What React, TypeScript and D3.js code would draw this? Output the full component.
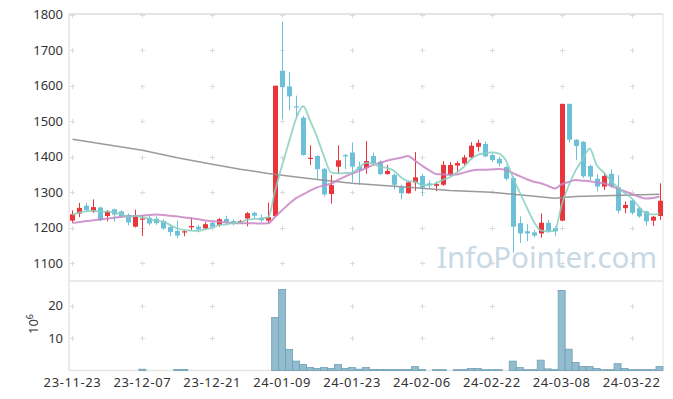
import React, { useEffect } from "react";
import * as d3 from "d3";

const dates = [
  "23-11-23","23-11-24","23-11-27","23-11-28","23-11-29","23-11-30",
  "23-12-01","23-12-04","23-12-05","23-12-06","23-12-07","23-12-08","23-12-11","23-12-12","23-12-13","23-12-14","23-12-15","23-12-18","23-12-19","23-12-20","23-12-21","23-12-22","23-12-26","23-12-27","23-12-28",
  "24-01-02","24-01-03","24-01-04","24-01-05","24-01-08","24-01-09","24-01-10","24-01-11","24-01-12","24-01-15","24-01-16","24-01-17","24-01-18","24-01-19","24-01-22","24-01-23","24-01-24","24-01-25","24-01-26","24-01-29","24-01-30","24-01-31",
  "24-02-01","24-02-02","24-02-05","24-02-06","24-02-07","24-02-08","24-02-13","24-02-14","24-02-15","24-02-16","24-02-19","24-02-20","24-02-21","24-02-22","24-02-23","24-02-26","24-02-27","24-02-28","24-02-29",
  "24-03-04","24-03-05","24-03-06","24-03-07","24-03-08","24-03-11","24-03-12","24-03-13","24-03-14","24-03-15","24-03-18","24-03-19","24-03-20","24-03-21","24-03-22","24-03-25","24-03-26","24-03-27","24-03-28",
];

const opens = [
  1220,1240,1262,1246,1257,1233,1252,1246,1236,1203,
  1223,1228,1225,1219,1202,1191,1187,1201,1203,1198,
  1214,1208,1225,1219,1215,1226,1242,1228,1220,1233,
  1642,1598,1542,1510,1395,1402,1366,1295,1372,1405,
  1412,1372,1368,1402,1386,1351,1349,1314,1297,1327,
  1346,1325,1318,1321,1349,1375,1381,1398,1428,1436,
  1405,1394,1371,1340,1213,1190,1187,1184,1214,1199,
  1220,1549,1448,1442,1374,1338,1316,1352,1314,1255,
  1277,1255,1246,1220,1233,
];
const highs = [
  1249,1270,1270,1280,1259,1250,1254,1249,1240,1251,
  1236,1235,1232,1224,1208,1219,1194,1229,1208,1216,
  1218,1227,1234,1224,1222,1244,1245,1238,1271,1600,
  1781,1638,1572,1515,1432,1404,1368,1348,1432,1408,
  1440,1386,1444,1412,1390,1377,1353,1321,1330,1413,
  1352,1333,1330,1388,1385,1387,1405,1441,1448,1443,
  1410,1400,1375,1345,1232,1210,1195,1240,1222,1204,
  1549,1549,1450,1444,1378,1351,1355,1365,1348,1274,
  1280,1258,1248,1233,1325,
];
const lows = [
  1214,1230,1244,1242,1219,1218,1217,1228,1207,1201,
  1177,1207,1208,1194,1176,1170,1176,1192,1187,1196,
  1199,1203,1208,1207,1212,1204,1225,1217,1212,1231,
  1506,1530,1512,1403,1377,1338,1288,1268,1352,1365,
  1327,1321,1352,1378,1349,1350,1307,1280,1296,1304,
  1289,1312,1303,1318,1345,1356,1377,1395,1415,1399,
  1385,1373,1333,1130,1157,1162,1173,1172,1186,1177,
  1218,1440,1390,1340,1333,1302,1306,1312,1240,1241,
  1237,1228,1206,1205,1222,
];
const closes = [
  1238,1256,1250,1258,1221,1245,1237,1233,1215,1236,
  1226,1212,1213,1198,1188,1178,1190,1205,1195,1210,
  1203,1224,1216,1214,1219,1241,1234,1221,1230,1600,
  1596,1570,1540,1405,1397,1365,1294,1320,1390,1401,
  1372,1362,1388,1382,1351,1360,1321,1297,1328,1342,
  1313,1320,1323,1377,1377,1382,1398,1431,1439,1401,
  1391,1381,1338,1203,1184,1184,1178,1214,1190,1190,
  1549,1448,1430,1345,1344,1316,1346,1316,1248,1264,
  1242,1232,1218,1231,1276,
];
// volume in millions
const volumes = [
  0,0,0,0,0,0,0,0,0,0,
  0.4,0,0,0,0,0.3,0.3,0,0,0,
  0,0,0,0,0,0,0,0,0,16.4,
  25.1,6.5,2.9,1.85,0.9,0.6,0.9,0.6,1.85,0.6,
  0.9,0.4,0.9,0.3,0.3,0.3,0.3,0.3,0.3,1.2,
  0.35,0,0.25,0.25,0,0.25,0.25,0.6,0.6,0.25,
  0.25,0.25,0,2.9,0.9,0.25,0.25,3.2,0.5,0.25,
  24.8,6.6,2.5,1.25,1.25,0.6,0.25,0.25,2.1,0.6,
  0.25,0.25,0.25,0.25,1.2,
];

// moving-average values before a full window is available
const ma5Lead = [1236, 1243, 1247, 1248];
const ma20Lead = [1213,1216,1219,1221,1224,1226,1228,1231,1232,1233,1234,1236,1237,1236,1234,1232,1229,1227,1224];
// long moving average
const longMaIdx = [0,5,10,15,20,24,28,32,36,40,45,50,54,60,65,69,72,76,80,84];
const longMaVal = [1449,1434,1418,1397,1379,1365,1353,1343,1334,1325,1318,1311,1305,1300,1291,1283,1288,1290,1292,1294];

const priceTicks = [1100,1200,1300,1400,1500,1600,1700,1800];
const volTicks = [10, 20];
const dateTickEvery = 10;

const W = 673, H = 399;
const L = 69, R = 663;
const PT = 14, PB = 281;
const VT = 281, VB = 370.5;

const RED = "#ea353b";
const BLUE = "#6cc1d9";
const GRID = "#dcdcdc";
const AXIS = "#e4e4e4";
const FONT = "'Noto Sans', 'Open Sans', sans-serif";

function movingAvg(n: number, lead: number[]) {
  return closes.map((_, i) => {
    if (i < n - 1) return lead[i];
    return d3.mean(closes.slice(i - n + 1, i + 1)) as number;
  });
}

export default function App() {
  useEffect(() => {
    document.body.style.margin = "0";
  }, []);

  const n = closes.length;
  const idx = d3.range(n);
  const x = d3.scaleLinear().domain([-0.5, n - 0.5]).range([L, R]);
  const y = d3.scaleLinear().domain([1050, 1802]).range([PB, PT]);
  const yv = d3.scaleLinear().domain([0, 27.7]).range([VB, VT]);

  const ma5 = movingAvg(5, ma5Lead);
  const ma20 = movingAvg(20, ma20Lead);
  const line = d3.line<[number, number]>().x(d => x(d[0])).y(d => y(d[1])).curve(d3.curveMonotoneX);
  const ma5Path = line(idx.map(i => [i, ma5[i]] as [number, number])) || "";
  const ma20Path = line(idx.map(i => [i, ma20[i]] as [number, number])) || "";
  const longPath = d3.line<[number, number]>().x(d => x(d[0])).y(d => y(d[1]))(
    longMaIdx.map((k, j) => [k, longMaVal[j]] as [number, number])) || "";

  const step = x(1) - x(0);
  const bodyW = 5;
  const xTickIdx = idx.filter(i => i % dateTickEvery === 0);

  const cross = (cx: number, cy: number, key: string) => (
    <g key={key} stroke={GRID} strokeWidth={1}>
      <line x1={cx - 2.5} x2={cx + 2.5} y1={cy} y2={cy} />
      <line x1={cx} x2={cx} y1={cy - 2.5} y2={cy + 2.5} />
    </g>
  );

  return (
    <svg width={W} height={H} style={{ position: "absolute", left: 0, top: 0, background: "#fff" }} fontFamily={FONT}>
      {/* frames */}
      <line x1={L} x2={R} y1={PT} y2={PT} stroke={AXIS} strokeWidth={2} />
      <line x1={L} x2={L} y1={PT} y2={VB} stroke={AXIS} strokeWidth={1.5} />
      <line x1={R} x2={R} y1={PT} y2={VB} stroke={AXIS} strokeWidth={1} />
      <line x1={L} x2={R} y1={PB} y2={PB} stroke={AXIS} strokeWidth={1.5} />
      <line x1={L} x2={R} y1={VB} y2={VB} stroke={AXIS} strokeWidth={1.5} />

      {/* grid crosses */}
      {xTickIdx.map(i => priceTicks.map(t => cross(Math.round(x(i)) + 0.5, Math.round(y(t)) + 0.5, `p${i}-${t}`)))}
      {xTickIdx.map(i => volTicks.map(t => cross(Math.round(x(i)) + 0.5, Math.round(yv(t)) + 0.5, `v${i}-${t}`)))}

      {/* watermark */}
      <text x={437} y={268} fontSize={29.5} fill="#b9d0df" opacity={0.8} fontFamily={FONT}>InfoPointer.com</text>

      {/* volume bars */}
      {idx.filter(i => volumes[i] > 0).map(i => {
        const top = yv(volumes[i]);
        return (
          <rect key={`vb${i}`} x={x(i) - step / 2} y={top} width={step} height={Math.max(0, VB - top)}
            fill="#93bccf" stroke="#6f9fb6" strokeWidth={0.8} />
        );
      })}

      {/* candles */}
      {idx.map(i => {
        const up = closes[i] >= opens[i];
        const c = up ? RED : BLUE;
        const cx = Math.round(x(i)) + 0.5;
        const yTop = y(Math.max(opens[i], closes[i]));
        const yBot = y(Math.min(opens[i], closes[i]));
        return (
          <g key={`c${i}`}>
            <line x1={cx} x2={cx} y1={y(highs[i])} y2={y(lows[i])} stroke={c} strokeWidth={1} />
            <rect x={cx - bodyW / 2} y={yTop} width={bodyW} height={Math.max(1.2, yBot - yTop)} fill={c} />
          </g>
        );
      })}

      {/* moving averages */}
      <path d={longPath} fill="none" stroke="#8f8f8f" strokeWidth={1.5} opacity={0.9} />
      <path d={ma20Path} fill="none" stroke="#c886c3" strokeWidth={2} opacity={0.85} />
      <path d={ma5Path} fill="none" stroke="#86cfbf" strokeWidth={1.8} opacity={0.85} />

      {/* price axis labels */}
      {priceTicks.map(t => (
        <text key={`pt${t}`} x={63} y={y(t)} dy="0.35em" textAnchor="end" fontSize={13} fill="#333">{t}</text>
      ))}
      {/* volume axis labels */}
      {volTicks.map(t => (
        <text key={`vt${t}`} x={63} y={yv(t)} dy="0.35em" textAnchor="end" fontSize={13} fill="#333">{t}</text>
      ))}
      <text transform="translate(38,324) rotate(-90)" textAnchor="middle" fontSize={13} fill="#333">
        10<tspan dy={-5} fontSize={9}>6</tspan>
      </text>

      {/* date labels */}
      {xTickIdx.map(i => (
        <text key={`dt${i}`} x={x(i)} y={382} dy="0.35em" textAnchor="middle" fontSize={13} letterSpacing={0.6} fill="#333">{dates[i]}</text>
      ))}
    </svg>
  );
}
